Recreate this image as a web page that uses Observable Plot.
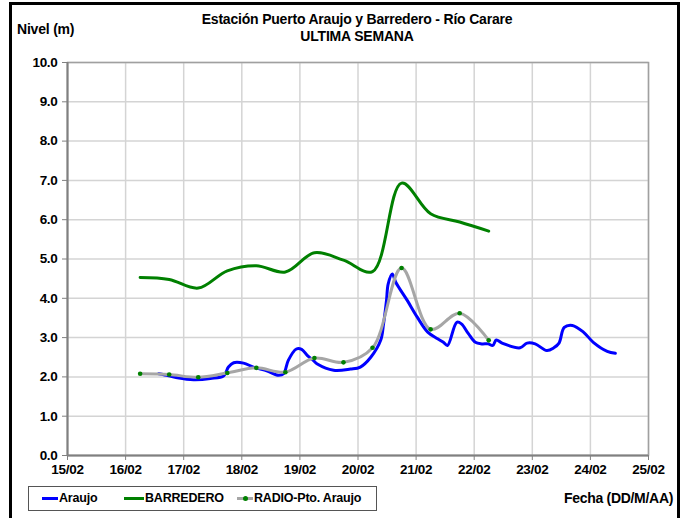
<!DOCTYPE html>
<html>
<head>
<meta charset="utf-8">
<script src="https://cdn.jsdelivr.net/npm/d3@7"></script>
<script src="https://cdn.jsdelivr.net/npm/@observablehq/plot@0.6"></script>
<style>
  html, body { margin: 0; padding: 0; background: #fff; }
  #wrap { position: relative; width: 684px; height: 518px; overflow: hidden;
    font-family: 'Liberation Sans', Arial, sans-serif; font-weight: bold; color: #000; }
  #chart { position: absolute; left: 0; top: 0; }
  .border { position: absolute; left: 9px; top: 2px; width: 665px; height: 530px; border: 3px solid #000; }
  .t { position: absolute; white-space: nowrap; }
  #title { left: 0; width: 714px; text-align: center; top: 11px; font-size: 14px; line-height: 17px; letter-spacing: -0.2px; }
  #ylabel { left: 17px; top: 21px; font-size: 14px; letter-spacing: -0.2px; }
  #xlabel { left: 564px; top: 490px; font-size: 14px; letter-spacing: -0.3px; }
  #legend { position: absolute; left: 28px; top: 486px; width: 349px; height: 25px; border: 1px solid #555; box-sizing: border-box; font-size: 12.5px; letter-spacing: -0.2px; }
  .item { position: absolute; top: 4px; display: flex; align-items: center; }
  .sw { position: relative; width: 16px; height: 3px; margin-right: 1px; }
  .dot { position: absolute; left: 6px; top: -1px; width: 5px; height: 5px; border-radius: 50%; background: #008000; }
</style>
</head>
<body>
<div id="wrap">
  <div id="chart"></div>
  <div class="border"></div>
  <div id="title" class="t">Estación Puerto Araujo y Barredero - Río Carare<br>ULTIMA SEMANA</div>
  <div id="ylabel" class="t">Nivel (m)</div>
  <div id="xlabel" class="t">Fecha (DD/M/AA)</div>
  <div id="legend">
    <div class="item" style="left:13px"><div class="sw" style="background:#0000ff"></div>Araujo</div>
    <div class="item" style="left:95px"><div class="sw" style="background:#008000;width:20px"></div>BARREDERO</div>
    <div class="item" style="left:208px"><div class="sw" style="background:#a6a6a6"><div class="dot"></div></div>RADIO-Pto. Araujo</div>
  </div>
</div>
<script>
// Axis ticks (x = day of February)
const xTicks = [15, 16, 17, 18, 19, 20, 21, 22, 23, 24, 25];
const xTickLabels = ["15/02", "16/02", "17/02", "18/02", "19/02", "20/02", "21/02", "22/02", "23/02", "24/02", "25/02"];
const yTicks = [0, 1, 2, 3, 4, 5, 6, 7, 8, 9, 10];

// Araujo (blue)
const araujoDay = [16.57, 16.74, 16.89, 17.17, 17.46, 17.69, 17.77, 17.86, 18.03, 18.20, 18.44, 18.63, 18.72, 18.80, 18.94, 19.03, 19.13, 19.23, 19.30, 19.58, 19.87, 20.04, 20.22, 20.39, 20.44, 20.49, 20.52, 20.59, 20.65, 20.85, 21.02, 21.20, 21.37, 21.47, 21.54, 21.70, 21.78, 21.90, 22.02, 22.13, 22.24, 22.32, 22.38, 22.48, 22.79, 22.91, 23.05, 23.25, 23.37, 23.46, 23.55, 23.69, 23.88, 24.05, 24.29, 24.43];
const araujoLevel = [2.08, 2.03, 1.98, 1.93, 1.96, 2.03, 2.25, 2.36, 2.35, 2.25, 2.15, 2.04, 2.08, 2.42, 2.71, 2.70, 2.54, 2.42, 2.33, 2.17, 2.20, 2.25, 2.50, 2.93, 3.35, 3.94, 4.37, 4.62, 4.41, 3.94, 3.52, 3.14, 2.97, 2.88, 2.80, 3.39, 3.35, 3.10, 2.88, 2.84, 2.84, 2.80, 2.94, 2.86, 2.74, 2.86, 2.84, 2.67, 2.74, 2.86, 3.26, 3.31, 3.14, 2.88, 2.65, 2.60];

// BARREDERO (green)
const barrederoDay = [16.25, 16.75, 17.25, 17.75, 18.25, 18.75, 19.25, 19.75, 20.25, 20.75, 21.25, 21.75, 22.25];
const barrederoLevel = [4.53, 4.48, 4.26, 4.70, 4.83, 4.67, 5.16, 4.97, 4.68, 6.93, 6.15, 5.94, 5.71];

// RADIO-Pto. Araujo (gray, with markers)
const radioDay = [16.25, 16.75, 17.25, 17.75, 18.25, 18.75, 19.25, 19.75, 20.25, 20.75, 21.25, 21.75, 22.25];
const radioLevel = [2.08, 2.06, 1.99, 2.10, 2.23, 2.12, 2.48, 2.37, 2.74, 4.77, 3.21, 3.62, 2.93];

const araujo = araujoDay.map((d, i) => ({day: d, level: araujoLevel[i]}));
const barredero = barrederoDay.map((d, i) => ({day: d, level: barrederoLevel[i]}));
const radio = radioDay.map((d, i) => ({day: d, level: radioLevel[i]}));

const chart = Plot.plot({
  width: 684,
  height: 518,
  marginLeft: 67,
  marginRight: 36,
  marginTop: 62,
  marginBottom: 63,
  style: {fontFamily: "'Liberation Sans', Arial, sans-serif", fontSize: "13.5px", fontWeight: "bold", color: "#000", background: "transparent", letterSpacing: "-0.3px"},
  x: {domain: [15, 25]},
  y: {domain: [0, 10]},
  marks: [
    Plot.gridX(xTicks, {stroke: "#d4d4d4", strokeOpacity: 1, strokeWidth: 1.5}),
    Plot.gridY(yTicks, {stroke: "#d4d4d4", strokeOpacity: 1, strokeWidth: 1.5}),
    Plot.frame({stroke: "#a0a0a0", strokeWidth: 1.5}),
    Plot.axisX(xTicks, {tickFormat: d => xTickLabels[xTicks.indexOf(d)], tickSize: 5, tickPadding: 4, stroke: "#808080", label: null, fill: "#000"}),
    Plot.axisY(yTicks, {tickFormat: d => d.toFixed(1), tickSize: 5, tickPadding: 5, stroke: "#808080", label: null, fill: "#000"}),
    Plot.ruleX([15], {stroke: "#808080", strokeWidth: 2}),
    Plot.ruleY([0], {stroke: "#808080", strokeWidth: 2}),
    Plot.line(araujo, {x: "day", y: "level", stroke: "#0000ff", strokeWidth: 3, curve: "catmull-rom"}),
    Plot.line(barredero, {x: "day", y: "level", stroke: "#008000", strokeWidth: 3, curve: "catmull-rom"}),
    Plot.line(radio, {x: "day", y: "level", stroke: "#a6a6a6", strokeWidth: 3, curve: "catmull-rom"}),
    Plot.dot(radio, {x: "day", y: "level", r: 2.3, fill: "#008000", stroke: null})
  ]
});
document.getElementById("chart").appendChild(chart);
</script>
</body>
</html>
